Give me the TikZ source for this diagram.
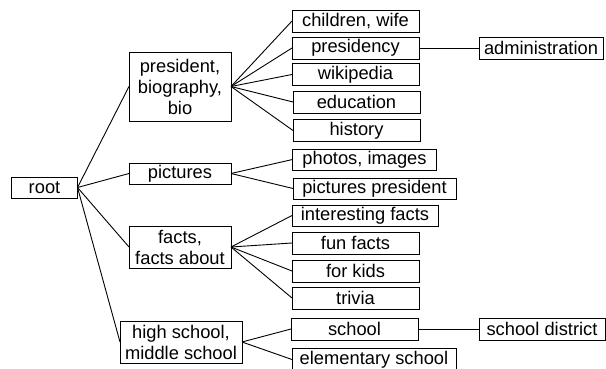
\documentclass[tikz,border=0pt]{standalone}
\usepackage{fontspec}
\setmainfont{Liberation Sans}
\begin{document}
\begin{tikzpicture}[
  x = 1pt,
  y = -1pt,
  term/.style = {
    shape = rectangle,
    draw = black,
    line width = 0.9pt,
    inner sep = 0pt,
    outer sep = 0pt,
    align = center,
    minimum width = 127pt,
    minimum height = 22pt,
    font = \fontsize{18.3}{21}\selectfont
  },
  every path/.style = {
    line width = 0.9pt
  }
]
  \useasboundingbox (0, 0) rectangle (606, 369);

  \node[term, minimum width = 66pt, minimum height = 21pt] (root) at (44.5, 187.5) {root};

  \node[term, minimum width = 102pt, minimum height = 69pt] (pres) at (180, 86.5) {president,\\biography,\\bio};
  \node[term, minimum width = 102pt, minimum height = 21pt] (pict) at (180, 173.5) {pictures};
  \node[term, minimum width = 102pt, minimum height = 42pt] (facts) at (180, 247) {facts,\\facts about};
  \node[term, minimum width = 122pt, minimum height = 42pt] (high) at (181, 342) {high school,\\middle school};

  \node[term] (wife) at (355.5, 21) {children, wife};
  \node[term] (presidency) at (355.5, 48) {presidency};
  \node[term] (wiki) at (355.5, 74.5) {wikipedia};
  \node[term] (edu) at (356.5, 102) {education};
  \node[term] (hist) at (356.5, 130.5) {history};

  \node[term, minimum width = 144pt, minimum height = 21pt] (photos) at (364.5, 159.5) {photos, images};
  \node[term, minimum width = 163pt, minimum height = 21pt] (pictpres) at (374.5, 188.5) {pictures president};

  \node[term, minimum width = 146pt, minimum height = 21pt] (interest) at (365, 215.5) {interesting facts};
  \node[term] (fun) at (355.5, 243) {fun facts};
  \node[term] (kids) at (355.5, 271) {for kids};
  \node[term] (trivia) at (355.5, 298) {trivia};

  \node[term] (school) at (354.5, 329) {school};
  \node[term, minimum width = 164pt, minimum height = 23pt] (elem) at (374, 359.5) {\raisebox{1.5pt}{elementary school}};

  \node[term, minimum width = 124pt] (admin) at (541, 48) {administration};
  \node[term, minimum width = 126pt] (district) at (542, 329) {school district};

  \draw (root.east) -- (pres.west);
  \draw (root.east) -- (pict.west);
  \draw (root.east) -- (facts.west);
  \draw (root.east) -- (high.west);

  \draw (pres.east) -- (wife.west);
  \draw (pres.east) -- (presidency.west);
  \draw (pres.east) -- (wiki.west);
  \draw (pres.east) -- (edu.west);
  \draw (pres.east) -- (hist.west);
  \draw (presidency) -- (admin);

  \draw (pict.east) -- (photos.west);
  \draw (pict.east) -- (pictpres.west);

  \draw (facts.east) -- (interest.west);
  \draw (facts.east) -- (fun.west);
  \draw (facts.east) -- (kids.west);
  \draw (facts.east) -- (trivia.west);

  \draw (high.east) -- (school.west);
  \draw (high.east) -- (elem.west);
  \draw (school) -- (district);
\end{tikzpicture}
\end{document}
